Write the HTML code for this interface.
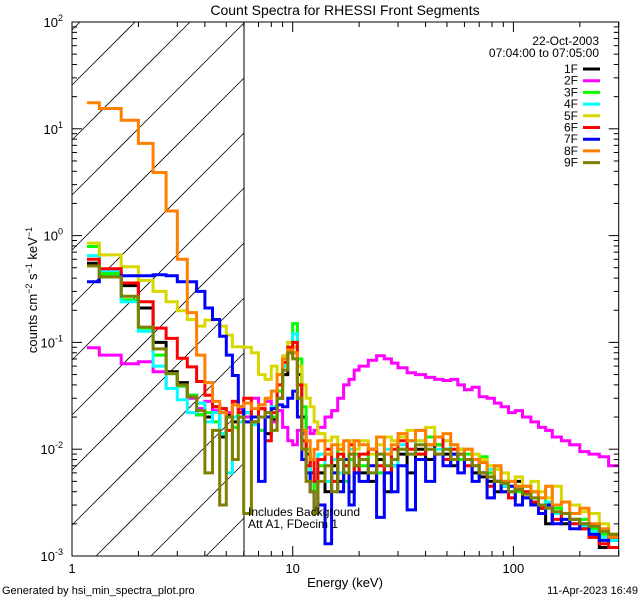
<!DOCTYPE html>
<html><head><meta charset="utf-8"><style>
html,body{margin:0;padding:0;background:#fff;width:640px;height:600px;overflow:hidden;}
svg{display:block;font-family:"Liberation Sans",sans-serif;}
</style></head><body>
<svg id="chart" width="640" height="600" viewBox="0 0 640 600" overflow="hidden">
<defs><clipPath id="plotclip"><rect x="72" y="22" width="546.7" height="534"/></clipPath></defs>
<rect x="0" y="0" width="640" height="600" fill="#fff"/>
<text x="345" y="15" font-size="14" text-anchor="middle">Count Spectra for RHESSI Front Segments</text>
<g id="hatch"></g>
<line x1="244" y1="22" x2="244" y2="556" stroke="#000" stroke-width="1"/>
<g id="series" clip-path="url(#plotclip)"></g>
<rect x="72" y="22" width="546.7" height="534" fill="none" stroke="#000" stroke-width="1"/>
<g id="axes"></g>
<text x="345" y="587" font-size="13" text-anchor="middle">Energy (keV)</text>
<text transform="translate(37,290) rotate(-90)" font-size="13" text-anchor="middle">counts cm<tspan dy="-5" font-size="9">−2</tspan><tspan dy="5"> s</tspan><tspan dy="-5" font-size="9">−1</tspan><tspan dy="5"> keV</tspan><tspan dy="-5" font-size="9">−1</tspan></text>
<text x="248" y="516" font-size="12">Includes Background</text>
<text x="248" y="528" font-size="12">Att A1, FDecim 1</text>
<text x="2" y="594" font-size="11">Generated by hsi_min_spectra_plot.pro</text>
<text x="638" y="594" font-size="11" text-anchor="end">11-Apr-2023 16:49</text>
<text x="599" y="45" font-size="12" text-anchor="end">22-Oct-2003</text>
<text x="599" y="57" font-size="12" text-anchor="end">07:04:00 to 07:05:00</text>
<g id="legend"></g>
</svg>
<script>
const edges = [1.17,1.33,1.67,2,2.33,2.67,3,3.33,3.67,4,4.33,4.67,5,5.33,5.67,6,
6.5,7,7.5,8,8.5,9,9.5,10,10.5,11,11.5,12,12.5,13,
14,15,16,17,18,19,20,
22,24,26,28,30,
33,36,40,44,48,52,56,60,
65,70,76,82,88,95,102,110,
120,130,140,150,165,180,200,220,245,270,300];
const seriesNames = ["1F","2F","3F","4F","5F","6F","7F","8F","9F"];
const seriesColors = ["#000000","#ff00ff","#00ff00","#00ffff","#d8d800","#ff0000","#0000ff","#ff8000","#808000"];
const s1F = [0.55,0.44,0.34,0.21,0.10,0.053,0.042,0.032,0.021,0.02,0.025,0.013,0.021,0.018,0.02,
0.022,0.018,0.02,0.014,0.019,0.03,0.05,0.08,0.09,0.05,0.02,0.009,0.006,0.0028,
0.006,0.004,0.007,0.005,0.008,0.004,0.007,
0.006,0.005,0.008,0.004,0.007,
0.009,0.006,0.01,0.008,0.011,0.009,0.007,0.01,
0.008,0.006,0.0055,0.005,0.004,0.0045,0.004,0.005,
0.0035,0.003,0.0028,0.002,0.0025,0.002,0.0022,0.0018,0.0015,0.0012,0.0014];
const s2F = [0.089,0.076,0.063,0.066,0.053,0.037,0.039,0.030,0.024,0.028,0.023,0.024,0.022,0.028,0.024,
0.02,0.03,0.026,0.028,0.018,0.023,0.016,0.012,0.011,0.015,0.014,0.016,0.014,0.015,
0.016,0.02,0.023,0.03,0.04,0.045,0.055,
0.06,0.068,0.075,0.07,0.064,
0.058,0.052,0.05,0.047,0.045,0.044,0.045,0.04,
0.036,0.038,0.031,0.03,0.027,0.025,0.022,0.023,
0.02,0.018,0.016,0.015,0.013,0.012,0.011,0.0095,0.009,0.0085,0.007];
const s3F = [0.79,0.44,0.25,0.136,0.076,0.051,0.039,0.032,0.021,0.022,0.018,0.024,0.02,0.016,0.022,
0.018,0.02,0.015,0.022,0.02,0.035,0.06,0.1,0.15,0.07,0.025,0.01,0.005,0.004,
0.007,0.009,0.006,0.01,0.005,0.008,0.009,
0.007,0.01,0.006,0.009,0.008,
0.01,0.012,0.009,0.013,0.011,0.01,0.009,0.008,
0.009,0.007,0.0085,0.006,0.0065,0.005,0.0045,0.004,
0.0045,0.004,0.0035,0.003,0.0028,0.0025,0.002,0.0022,0.0018,0.0016,0.0015];
const s4F = [0.65,0.47,0.24,0.127,0.060,0.037,0.029,0.022,0.027,0.018,0.022,0.014,0.006,0.02,0.018,
0.022,0.017,0.024,0.02,0.025,0.04,0.06,0.085,0.12,0.04,0.012,0.007,0.005,0.006,
0.009,0.005,0.008,0.006,0.007,0.01,0.006,
0.008,0.006,0.009,0.01,0.007,
0.011,0.009,0.012,0.01,0.01,0.012,0.008,0.009,
0.008,0.007,0.006,0.0065,0.005,0.0045,0.004,0.0045,
0.004,0.0035,0.003,0.0032,0.0025,0.0022,0.002,0.0019,0.0017,0.0015,0.0014];
const s5F = [0.85,0.66,0.51,0.38,0.30,0.24,0.198,0.164,0.142,0.162,0.164,0.142,0.117,0.091,0.091,
0.09,0.08,0.05,0.045,0.06,0.05,0.075,0.1,0.09,0.06,0.04,0.03,0.025,0.018,
0.014,0.012,0.013,0.011,0.008,0.012,0.01,
0.012,0.009,0.011,0.013,0.012,
0.013,0.015,0.012,0.016,0.013,0.012,0.011,0.01,
0.01,0.009,0.008,0.007,0.0065,0.006,0.005,0.0055,
0.0045,0.005,0.004,0.0035,0.0045,0.0032,0.003,0.0026,0.0025,0.002,0.0016];
const s6F = [0.6,0.49,0.36,0.24,0.136,0.109,0.071,0.059,0.043,0.032,0.025,0.024,0.015,0.028,0.022,
0.03,0.018,0.024,0.012,0.022,0.04,0.065,0.09,0.1,0.04,0.012,0.007,0.008,0.005,
0.008,0.01,0.005,0.009,0.007,0.011,0.006,
0.009,0.01,0.007,0.006,0.01,
0.012,0.01,0.009,0.011,0.013,0.008,0.01,0.009,
0.007,0.008,0.006,0.0045,0.005,0.004,0.0035,0.0042,
0.004,0.0032,0.0028,0.003,0.0022,0.0025,0.002,0.0018,0.0015,0.0013,0.0012];
const s7F = [0.37,0.41,0.42,0.42,0.43,0.42,0.37,0.37,0.30,0.21,0.164,0.114,0.076,0.049,0.025,
0.018,0.02,0.005,0.02,0.024,0.026,0.025,0.03,0.035,0.02,0.008,0.006,0.004,0.0025,
0.003,0.0013,0.006,0.004,0.008,0.003,0.006,
0.005,0.007,0.0023,0.006,0.004,
0.007,0.0027,0.008,0.005,0.009,0.007,0.009,0.006,
0.008,0.005,0.006,0.0035,0.005,0.004,0.0045,0.003,
0.0035,0.003,0.0025,0.003,0.002,0.0022,0.0018,0.002,0.0016,0.0014,0.0015];
const s8F = [17.5,15.5,12,7.3,3.9,1.7,0.6,0.19,0.076,0.042,0.028,0.022,0.02,0.026,0.025,
0.027,0.024,0.026,0.03,0.035,0.05,0.07,0.085,0.08,0.03,0.015,0.012,0.008,0.01,
0.012,0.009,0.011,0.01,0.012,0.009,0.012,
0.011,0.01,0.013,0.009,0.011,
0.014,0.012,0.015,0.011,0.013,0.014,0.011,0.009,
0.01,0.008,0.0075,0.0055,0.007,0.005,0.005,0.0045,
0.0045,0.004,0.0035,0.0045,0.003,0.0032,0.0025,0.0028,0.002,0.0018,0.0015];
const s9F = [0.52,0.41,0.27,0.139,0.087,0.051,0.040,0.031,0.023,0.006,0.015,0.003,0.02,0.008,0.02,
0.0025,0.018,0.02,0.022,0.015,0.03,0.055,0.08,0.07,0.03,0.01,0.005,0.004,0.0025,
0.005,0.007,0.004,0.008,0.006,0.009,0.007,
0.008,0.006,0.009,0.007,0.008,
0.01,0.009,0.011,0.01,0.009,0.01,0.008,0.009,
0.008,0.007,0.006,0.0055,0.005,0.0048,0.004,0.0042,
0.0038,0.0035,0.003,0.0028,0.0026,0.0025,0.0022,0.002,0.0019,0.0017,0.0016];
const seriesValues = [s1F,s2F,s3F,s4F,s5F,s6F,s7F,s8F,s9F];
const xMajorTicks = [1,10,100];
const xTickLabels = ["1","10","100"];
const yDecades = [-3,-2,-1,0,1,2];

const NS="http://www.w3.org/2000/svg";
const X0=72, X1=618.7, Y0=22, Y1=556;
const xMin=1, xMax=300, yMinExp=-3, yMaxExp=2;
function xScale(e){return X0+(X1-X0)*(Math.log10(e)-Math.log10(xMin))/(Math.log10(xMax)-Math.log10(xMin));}
function yScale(v){return Y1-(Y1-Y0)*(Math.log10(v)-yMinExp)/(yMaxExp-yMinExp);}
function mk(tag,attrs,parent){const el=document.createElementNS(NS,tag);for(const k in attrs)el.setAttribute(k,attrs[k]);parent.appendChild(el);return el;}

// hatch: 45-degree lines, geometrically clipped to region x 72..244, y 22..556
const hatch=document.getElementById('hatch');
const HX0=72, HX1=244;
for(let k=-3;k<=12;k++){
  const c=85+k*55; // y at x=72; y = c - (x-72)
  const xa=Math.max(HX0, 72+c-Y1);
  const xb=Math.min(HX1, 72+c-Y0);
  if(xb<=xa)continue;
  const ln=mk('line',{x1:xa,y1:c-(xa-72),x2:xb,y2:c-(xb-72),stroke:'#000','stroke-width':0.8},hatch);
  
  
}

// series
const sg=document.getElementById('series');
seriesValues.forEach((vals,si)=>{
  let d='';
  for(let i=0;i<vals.length;i++){
    const xa=xScale(edges[i]).toFixed(1), xb=xScale(edges[i+1]).toFixed(1), y=yScale(vals[i]).toFixed(1);
    d+=(i===0?'M':'L')+xa+','+y+'L'+xb+','+y;
  }
  const p=mk('path',{d:d,fill:'none',stroke:seriesColors[si],'stroke-width':3,'stroke-linejoin':'miter'},sg);
  
  
});

// axes
const ax=document.getElementById('axes');
for(let dec=0;dec<3;dec++){
  for(let m=1;m<=9;m++){
    const e=m*Math.pow(10,dec); if(e>xMax)break;
    const x=xScale(e); const len=(m===1)?10:5;
    const t1=mk('line',{x1:x,y1:Y1,x2:x,y2:Y1-len,stroke:'#000'},ax);
    
    
    const t2=mk('line',{x1:x,y1:Y0,x2:x,y2:Y0+len,stroke:'#000'},ax);
    
    
  }
}
xMajorTicks.forEach((e,i)=>{
  const t=mk('text',{x:xScale(e),y:573,'font-size':13,'text-anchor':'middle'},ax);
  t.textContent=xTickLabels[i];
  
  
});
yDecades.forEach(de=>{
  for(let m=1;m<=9;m++){
    if(de===yMaxExp&&m>1)break;
    const v=m*Math.pow(10,de); const y=yScale(v); const len=(m===1)?10:5;
    const a=mk('line',{x1:X0,y1:y,x2:X0+len,y2:y,stroke:'#000'},ax);
    
    
    const b=mk('line',{x1:X1,y1:y,x2:X1-len,y2:y,stroke:'#000'},ax);
    
    
  }
  const t=mk('text',{x:63,y:yScale(Math.pow(10,de))+5,'font-size':13,'text-anchor':'end'},ax);
  
  
  t.appendChild(document.createTextNode('10'));
  const sup=mk('tspan',{dy:-6,'font-size':9},t);
  sup.textContent=String(de);
});

// legend
const lg=document.getElementById('legend');
seriesNames.forEach((n,i)=>{
  const y=69+i*11.7;
  const t=mk('text',{x:578,y:y+4,'font-size':12,'text-anchor':'end'},lg);
  t.textContent=n;
  
  
  const l=mk('line',{x1:583,y1:y,x2:600,y2:y,stroke:seriesColors[i],'stroke-width':3},lg);
  
  
});
</script>
</body></html>
